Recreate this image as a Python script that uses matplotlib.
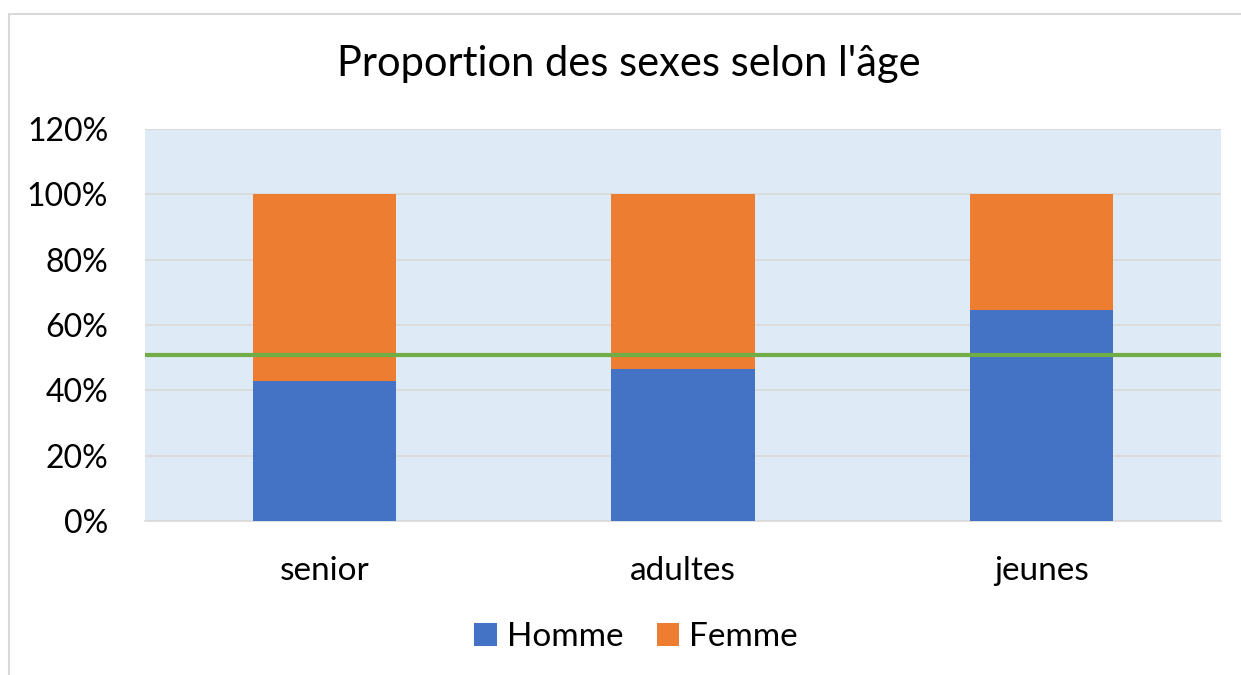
import matplotlib
matplotlib.use("Agg")
import matplotlib.pyplot as plt
from matplotlib.patches import Rectangle
from matplotlib.ticker import FuncFormatter

categories = ["senior", "adultes", "jeunes"]
homme = [0.429, 0.466, 0.645]
femme = [1 - h for h in homme]
reference_line = 0.508
yticks = [0, 0.2, 0.4, 0.6, 0.8, 1.0, 1.2]

plt.rcParams['font.family'] = ['Lato', 'DejaVu Sans']

W, H = 1241, 675
fig = plt.figure(figsize=(W / 100, H / 100), dpi=100)

# chart border
fig.patches.append(Rectangle((9 / W, -0.1), 1.2, (H - 14) / H + 0.1, transform=fig.transFigure,
                             fill=False, edgecolor="#D9D9D9", linewidth=1.5))

ax = fig.add_axes([145 / W, (H - 521) / H, 1076 / W, 392 / H])
ax.set_facecolor("#DEEAF6")
x = range(len(categories))
b1 = ax.bar(x, homme, width=0.4, color="#4472C4", label="Homme", zorder=3)
b2 = ax.bar(x, femme, width=0.4, bottom=homme, color="#ED7D31", label="Femme", zorder=3)
ax.axhline(reference_line, color="#70AD47", linewidth=3, zorder=4)

ax.set_xlim(-0.5, 2.5)
ax.set_ylim(0, 1.2)
ax.set_yticks(yticks)
ax.yaxis.set_major_formatter(FuncFormatter(lambda v, p: f"{v * 100:.0f}%"))
ax.grid(axis="y", color="#D9D9D9", linewidth=1.2, zorder=0)
ax.set_axisbelow(True)
for s in ["top", "right", "left"]:
    ax.spines[s].set_visible(False)
ax.spines["bottom"].set_color("#D9D9D9")
ax.spines["bottom"].set_linewidth(1.2)
ax.tick_params(axis="both", length=0, colors="black")
ax.tick_params(axis="y", pad=26.5, labelsize=23)
ax.tick_params(axis="x", pad=25, labelsize=24)
ax.set_xticks(list(x))
ax.set_xticklabels(categories)

fig.text(629 / W, 1 - 64 / H, "Proportion des sexes selon l'âge", ha="center", va="center", fontsize=30)

fig.legend(handles=[b1, b2], labels=["Homme", "Femme"], loc="center", bbox_to_anchor=(636 / W, 1 - 637 / H),
           ncol=2, frameon=False, fontsize=24, handlelength=0.67, handleheight=0.67, handletextpad=0.3,
           columnspacing=1.0)

fig.savefig("out.png", dpi=100)
